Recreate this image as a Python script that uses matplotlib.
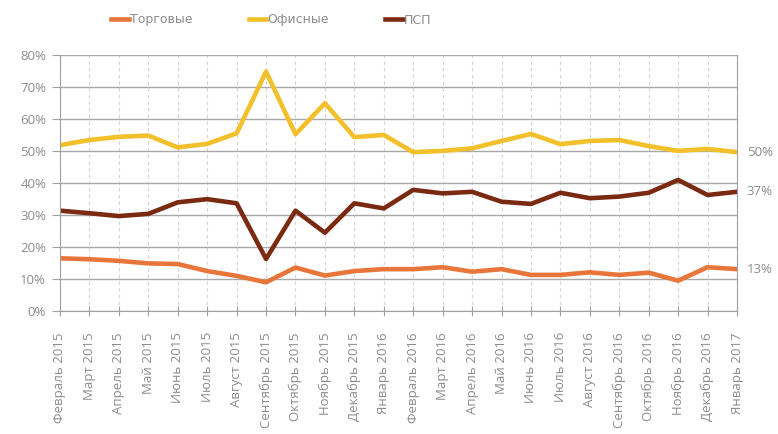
import matplotlib
matplotlib.use('Agg')
import matplotlib.pyplot as plt
import matplotlib.ticker as mtick

plt.rcParams['font.family'] = ['Open Sans', 'DejaVu Sans']

months = ['Февраль 2015', 'Март 2015', 'Апрель 2015', 'Май 2015', 'Июнь 2015',
          'Июль 2015', 'Август 2015', 'Сентябрь 2015', 'Октябрь 2015', 'Ноябрь 2015',
          'Декабрь 2015', 'Январь 2016', 'Февраль 2016', 'Март 2016', 'Апрель 2016',
          'Май 2016', 'Июнь 2016', 'Июль 2016', 'Август 2016', 'Сентябрь 2016',
          'Октябрь 2016', 'Ноябрь 2016', 'Декабрь 2016', 'Январь 2017']

retail = [16.4, 16.1, 15.6, 14.8, 14.6, 12.4, 10.9, 8.9, 13.5, 11.0, 12.4, 13.0,
          13.0, 13.6, 12.2, 13.0, 11.2, 11.2, 12.0, 11.2, 11.9, 9.4, 13.6, 13.0]
office = [51.8, 53.4, 54.4, 54.8, 51.1, 52.2, 55.5, 74.8, 55.2, 64.9, 54.3, 55.0,
          49.6, 50.0, 50.8, 53.1, 55.3, 52.1, 53.1, 53.4, 51.5, 50.0, 50.6, 49.6]
psp = [31.3, 30.5, 29.6, 30.3, 33.9, 34.9, 33.6, 16.2, 31.3, 24.4, 33.6, 32.0,
       37.8, 36.7, 37.2, 34.1, 33.4, 36.9, 35.2, 35.7, 36.9, 40.9, 36.2, 37.2]

series = [('Торговые', retail, '#E8763A'),
          ('Офисные', office, '#F2C02A'),
          ('ПСП', psp, '#7A2A10')]

grey = '#8C8C8C'
fig = plt.figure(figsize=(7.78, 4.34), dpi=100)
ax = fig.add_axes([60 / 778, 123.3 / 434, 677 / 778, 255.7 / 434])

x = list(range(len(months)))
for name, vals, col in series:
    ax.plot(x, vals, color=col, linewidth=3.3, label=name)

ax.set_xlim(0, len(months) - 1)
ax.set_ylim(0, 80)
ax.yaxis.set_major_locator(mtick.MultipleLocator(10))
ax.yaxis.set_major_formatter(mtick.PercentFormatter(100, decimals=0))
ax.set_xticks(x)
ax.set_xticklabels(months, rotation=90, va='top', ha='center')

ax.grid(axis='y', color='#A8A8A8', linewidth=1.0)
ax.grid(axis='x', color='#D4D4D4', linewidth=0.8, linestyle=(0, (3, 3)))
ax.set_axisbelow(True)
for s in ['left', 'bottom', 'right']:
    ax.spines[s].set_color('#A0A0A0')
ax.spines['top'].set_visible(False)
ax.tick_params(axis='x', direction='inout', length=7, color='#A0A0A0',
               labelcolor=grey, labelsize=9.5, pad=12)
ax.tick_params(axis='y', direction='out', length=6, color='#A0A0A0',
               labelcolor=grey, labelsize=9.5, pad=4)

# end labels at right
for name, vals, col in series:
    ax.annotate('{:.0f}%'.format(vals[-1]), xy=(x[-1], vals[-1]), xytext=(7, 0),
                textcoords='offset points', va='center', ha='left',
                color=grey, fontsize=9.5, annotation_clip=False)

fig.legend(loc='center left', bbox_to_anchor=(100 / 778, 1 - 20 / 434), ncol=3,
           frameon=False, handlelength=1.4, handletextpad=0.1, columnspacing=4.5,
           prop={'family': ['Liberation Sans Narrow', 'DejaVu Sans'], 'size': 9},
           labelcolor=grey)

fig.savefig('out.png', dpi=100)
